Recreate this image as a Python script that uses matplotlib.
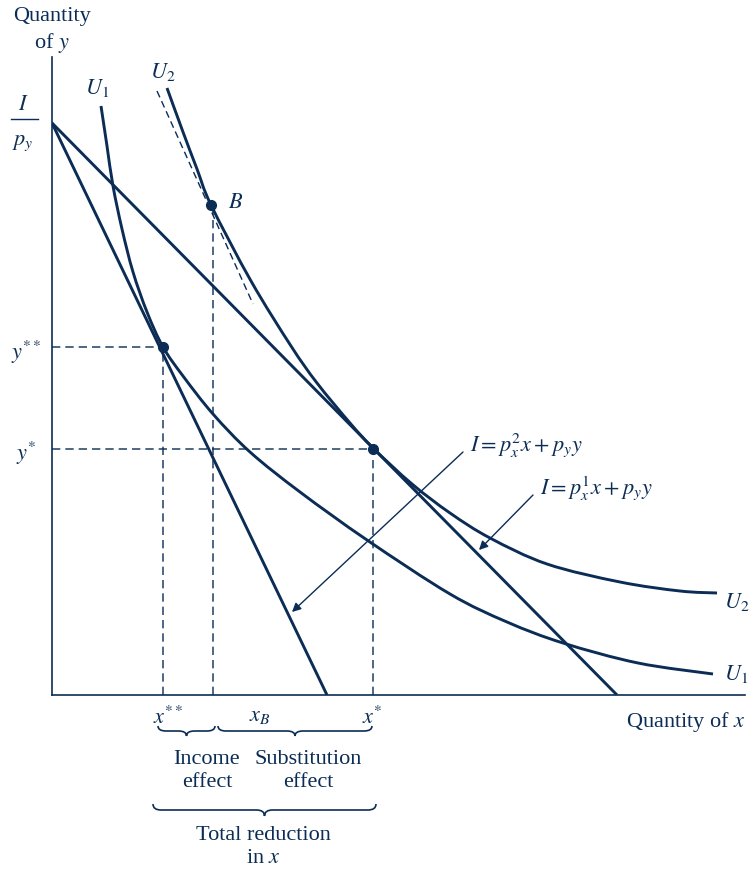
import numpy as np
import matplotlib
matplotlib.use("Agg")
import matplotlib.pyplot as plt
from matplotlib.path import Path
from matplotlib.patches import PathPatch

plt.rcParams["font.family"] = ["Liberation Serif", "DejaVu Serif"]
plt.rcParams["mathtext.fontset"] = "stix"

NAVY = "#0b2d55"

# coordinates are in arbitrary quantity units (origin at the axes corner)
intercept_y = 572          # I / p_y
budget1_x_end = 565        # I / p_x^1
budget2_x_end = 275        # I / p_x^2
comp_line_x = [105, 201]   # dashed compensated budget line
comp_line_y = [604, 391]

u1_x = [49, 55, 61, 70, 81, 95, 111, 131, 161, 198, 248, 315, 398, 455, 511, 586, 661]
u1_y = [589, 549, 509, 466, 423, 383, 348, 319, 281, 243, 203, 155, 101, 73, 52, 32, 21]

u2_x = [115, 131, 145, 159, 199, 239, 265, 298, 321, 360, 398, 438, 495, 568, 628, 665]
u2_y = [607, 563, 526, 490, 414, 349, 312, 272, 247, 211, 182, 157, 131, 113, 104, 102]

x_star, y_star = 321, 246
x_2star, y_2star = 111, 348
x_b, y_b = 159, 490

fig = plt.figure(figsize=(7.5, 8.7), dpi=100)
ax = fig.add_axes([52 / 750, 174 / 870, 693 / 750, 638 / 870])
ax.set_xlim(0, 693)
ax.set_ylim(0, 638)
for s in ["top", "right"]:
    ax.spines[s].set_visible(False)
for s in ["left", "bottom"]:
    ax.spines[s].set_color(NAVY)
    ax.spines[s].set_linewidth(1.2)
ax.set_xticks([])
ax.set_yticks([])

lw = 2.1


def smooth_curve(xs, ys, **kw):
    # draw a smooth bezier path through the read points
    p = np.column_stack([xs, ys]).astype(float)
    verts = [tuple(p[0])]
    codes = [Path.MOVETO]
    for i in range(len(p) - 1):
        p0 = p[i - 1] if i > 0 else p[i]
        p3 = p[i + 2] if i + 2 < len(p) else p[i + 1]
        c1 = p[i] + (p[i + 1] - p0) / 6
        c2 = p[i + 1] - (p3 - p[i]) / 6
        verts += [tuple(c1), tuple(c2), tuple(p[i + 1])]
        codes += [Path.CURVE4] * 3
    ax.add_patch(PathPatch(Path(verts, codes), fill=False, **kw))


# budget lines
ax.plot([0, budget1_x_end], [intercept_y, 0], color=NAVY, lw=lw, solid_capstyle="butt")
ax.plot([0, budget2_x_end], [intercept_y, 0], color=NAVY, lw=lw, solid_capstyle="butt")
ax.plot(comp_line_x, comp_line_y, color=NAVY, lw=1.0, ls=(0, (5, 3)))

# indifference curves
smooth_curve(u1_x, u1_y, edgecolor=NAVY, lw=lw, capstyle="butt")
smooth_curve(u2_x, u2_y, edgecolor=NAVY, lw=lw, capstyle="butt")

# dashed guides
dash = dict(color=NAVY, lw=1.2, ls=(0, (5, 3)), alpha=0.85)
ax.plot([0, x_2star], [y_2star, y_2star], **dash)
ax.plot([x_2star, x_2star], [0, y_2star], **dash)
ax.plot([0, x_star], [y_star, y_star], **dash)
ax.plot([x_star, x_star], [0, y_star], **dash)
ax.plot([x_b + 2, x_b + 2], [0, y_b], **dash)

ax.plot([x_star, x_2star, x_b], [y_star, y_2star, y_b], "o", color=NAVY, ms=7, zorder=5)

fs = 16
tkw = dict(color=NAVY, fontsize=fs, clip_on=False)

ax.text(0, 679, "Quantity", ha="center", va="center", **tkw)
ax.text(0, 653, "of $y$", ha="center", va="center", **tkw)
ax.text(-29, 590, "$I$", ha="center", va="center", **tkw)
ax.plot([-41, -14], [576, 576], color=NAVY, lw=1.0, clip_on=False)
ax.text(-29, 553, "$p_y$", ha="center", va="center", **tkw)
ax.text(-26, 344, "$y^{**}$", ha="center", va="center", **tkw)
ax.text(-26, 243, "$y^{*}$", ha="center", va="center", **tkw)

ax.text(45, 608, "$U_1$", ha="center", va="center", **tkw)
ax.text(111, 624, "$U_2$", ha="center", va="center", **tkw)
ax.text(176, 493, "$B$", ha="left", va="center", **tkw)
ax.text(672, 94, "$U_2$", ha="left", va="center", **tkw)
ax.text(672, 22, "$U_1$", ha="left", va="center", **tkw)

ax.text(116, -22, "$x^{**}$", ha="center", va="center", **tkw)
ax.text(208, -21, "$x_B$", ha="center", va="center", **tkw)
ax.text(320, -22, "$x^{*}$", ha="center", va="center", **tkw)
ax.text(693, -26, "Quantity of $x$", ha="right", va="center", **tkw)

ax.text(155, -75, "Income\neffect", ha="center", va="center", linespacing=1.3, **tkw)
ax.text(256, -75, "Substitution\neffect", ha="center", va="center", linespacing=1.3, **tkw)
ax.text(211, -151, "Total reduction\nin $x$", ha="center", va="center", linespacing=1.3, **tkw)

ax.text(418, 251, r"$I = p_x^2 x + p_y y$", ha="left", va="center", **tkw)
ax.text(488, 208, r"$I = p_x^1 x + p_y y$", ha="left", va="center", **tkw)

arrow = dict(arrowstyle="-|>", color=NAVY, lw=1.0, mutation_scale=13, shrinkA=0, shrinkB=0)
ax.annotate("", xy=(240, 83), xytext=(411, 243), arrowprops=arrow, annotation_clip=False)
ax.annotate("", xy=(427, 145), xytext=(481, 200), arrowprops=arrow, annotation_clip=False)


def brace(x0, x1, top, h):
    xm = (x0 + x1) / 2
    r = min(8, (x1 - x0) / 4)
    mid = top - h / 2
    verts = [(x0, top), (x0, mid), (x0 + r, mid),
             (xm - r, mid), (xm, mid), (xm, top - h),
             (xm, mid), (xm + r, mid),
             (x1 - r, mid), (x1, mid), (x1, top)]
    codes = [Path.MOVETO, Path.CURVE3, Path.CURVE3,
             Path.LINETO, Path.CURVE3, Path.CURVE3,
             Path.CURVE3, Path.CURVE3,
             Path.LINETO, Path.CURVE3, Path.CURVE3]
    ax.add_patch(PathPatch(Path(verts, codes), fill=False, edgecolor=NAVY,
                           lw=1.2, clip_on=False))


brace(106, 163, -31, 10)
brace(166, 320, -31, 10)
brace(101, 324, -109, 12)

fig.savefig("out.png", dpi=100, facecolor="white")
